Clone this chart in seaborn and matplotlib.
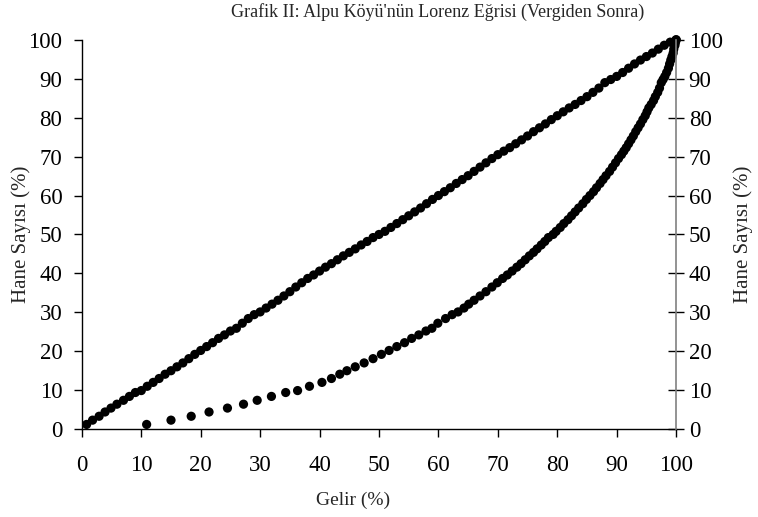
import numpy as np
import pandas as pd
import matplotlib
matplotlib.use('Agg')
import matplotlib.pyplot as plt
import seaborn as sns

# cumulative household share (%), shared by both series
hane = [1.2, 2.3, 3.3, 4.4, 5.4, 6.4, 7.4, 8.4, 9.4, 9.9,
        11.0, 12.0, 13.0, 14.1, 15.0, 16.0, 17.0, 18.1, 19.2, 20.2,
        21.2, 22.2, 23.3, 24.2, 25.2, 25.9, 27.2, 28.4, 29.4, 30.1,
        31.1, 32.1, 33.1, 34.2, 35.3, 36.5, 37.6, 38.7, 39.6, 40.6,
        41.6, 42.5, 43.5, 44.5, 45.4, 46.3, 47.3, 48.2, 49.2, 50.0,
        50.8, 51.8, 52.8, 53.8, 54.8, 55.8, 56.8, 57.9, 59.0, 60.0,
        61.0, 62.0, 63.1, 64.1, 65.1, 66.2, 67.3, 68.4, 69.5, 70.5,
        71.4, 72.3, 73.3, 74.3, 75.3, 76.4, 77.4, 78.4, 79.5, 80.5,
        81.5, 82.5, 83.4, 84.4, 85.4, 86.5, 87.6, 89.0, 89.8, 90.6,
        91.6, 92.7, 93.8, 94.8, 95.7, 96.6, 97.6, 98.6, 99.4, 100.0]

# equal-distribution line (upper dots)
esit = [0.8, 1.8, 2.9, 3.9, 4.9, 5.9, 7.0, 8.0, 9.0, 10.0,
        11.0, 12.0, 13.0, 14.0, 15.0, 16.0, 17.0, 18.0, 19.0, 20.0,
        21.0, 22.0, 23.0, 24.0, 25.0, 26.0, 27.0, 28.0, 29.0, 30.0,
        31.0, 32.0, 33.0, 34.0, 35.0, 36.0, 37.0, 38.0, 39.0, 40.0,
        41.0, 42.0, 43.0, 44.0, 45.0, 46.0, 47.0, 48.0, 49.0, 50.0,
        51.0, 52.0, 53.0, 54.0, 55.0, 56.0, 57.0, 58.0, 59.0, 60.0,
        61.0, 62.0, 63.0, 64.0, 65.0, 66.0, 67.0, 68.0, 69.0, 70.0,
        71.0, 72.0, 73.0, 74.0, 75.0, 76.0, 77.0, 78.0, 79.0, 80.0,
        81.0, 82.0, 83.0, 84.0, 85.0, 86.0, 87.0, 88.0, 89.0, 90.0,
        91.0, 92.0, 93.0, 94.0, 95.0, 96.0, 97.0, 98.0, 99.0, 100.0]

# cumulative income share (%) - Lorenz curve
gelir = [10.9, 15.0, 18.4, 21.4, 24.5, 27.2, 29.5, 31.9, 34.3, 36.3,
         38.3, 40.4, 42.0, 43.4, 44.6, 46.0, 47.5, 49.0, 50.4, 51.7,
         53.0, 54.3, 55.5, 56.7, 57.9, 58.9, 59.9, 61.2, 62.3, 63.3,
         64.3, 65.1, 66.0, 67.0, 68.0, 69.0, 69.9, 70.8, 71.6, 72.4,
         73.2, 73.9, 74.6, 75.3, 76.0, 76.6, 77.3, 77.9, 78.5, 79.3,
         79.8, 80.5, 81.1, 81.8, 82.4, 83.0, 83.6, 84.3, 84.9, 85.5,
         86.1, 86.6, 87.2, 87.7, 88.2, 88.8, 89.3, 89.8, 90.3, 90.8,
         91.2, 91.6, 92.0, 92.4, 92.8, 93.2, 93.6, 94.0, 94.4, 94.8,
         95.1, 95.4, 95.8, 96.2, 96.5, 96.9, 97.2, 97.5, 97.8, 98.1,
         98.4, 98.7, 98.9, 99.1, 99.3, 99.5, 99.6, 99.8, 99.9, 100.0]

ticks = [0, 10, 20, 30, 40, 50, 60, 70, 80, 90, 100]

df = pd.DataFrame({'hane': hane, 'esit': esit, 'gelir': gelir})

sns.set_style('white')
plt.rcParams['font.family'] = ['Liberation Serif', 'DejaVu Serif']

fig = plt.figure(figsize=(7.58, 5.17), dpi=100)
ax = fig.add_axes([0.108, 0.170, 0.784, 0.753])

sns.scatterplot(data=df, x='esit', y='hane', ax=ax, color='black', s=44,
                edgecolor='none', clip_on=False, zorder=3)
sns.scatterplot(data=df, x='gelir', y='hane', ax=ax, color='black', s=44,
                edgecolor='none', clip_on=False, zorder=3)

ax.set_xlim(0, 100)
ax.set_ylim(0, 100)
ax.set_xticks(ticks)
ax.set_yticks(ticks)
ax.tick_params(axis='both', direction='out', length=6, width=1, colors='black',
               labelsize=16.5, left=True, bottom=True)
ax.tick_params(axis='x', pad=13)
ax.tick_params(axis='y', pad=8)
ax.spines['top'].set_visible(False)
ax.spines['right'].set_visible(False)
for s in ['left', 'bottom']:
    ax.spines[s].set_color('black')
    ax.spines[s].set_linewidth(1)

ax.set_xlabel('Gelir (%)', fontsize=14)
ax.xaxis.set_label_coords(0.456, -0.16)
ax.set_ylabel('Hane Sayısı (%)', fontsize=15)
ax.yaxis.set_label_coords(-0.085, 0.5)

ax2 = ax.twinx()
ax2.set_ylim(0, 100)
ax2.set_yticks(ticks)
ax2.tick_params(axis='y', direction='inout', length=12, width=1, colors='black',
                labelsize=16.5, pad=3)
for s in ['top', 'left', 'bottom']:
    ax2.spines[s].set_visible(False)
ax2.spines['right'].set_color('#808080')
ax2.spines['right'].set_linewidth(1.2)
ax2.set_ylabel('Hane Sayısı (%)', fontsize=15, labelpad=8)

fig.text(0.577, 0.995, "Grafik II: Alpu Köyü'nün Lorenz Eğrisi (Vergiden Sonra)",
         fontsize=13, ha='center', va='top')

fig.savefig('out.png', dpi=100)
